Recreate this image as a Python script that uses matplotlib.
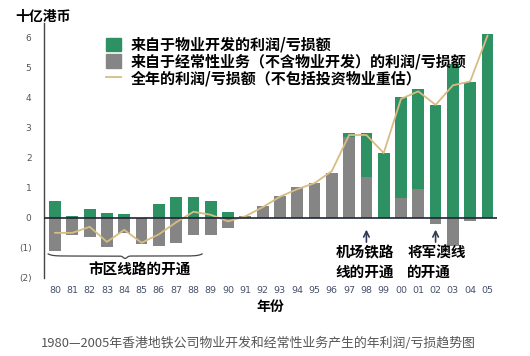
import numpy as np
import matplotlib.pyplot as plt
from matplotlib.patches import Patch
from matplotlib.lines import Line2D

plt.rcParams['font.family'] = ['Noto Sans CJK SC', 'DejaVu Sans']

# data (billion HKD)
years = list(range(1980, 2006))
year_labels = ['80', '81', '82', '83', '84', '85', '86', '87', '88', '89',
               '90', '91', '92', '93', '94', '95', '96', '97', '98', '99',
               '00', '01', '02', '03', '04', '05']
dev_profit = [0.55, 0.05, 0.30, 0.15, 0.12, 0.0, 0.47, 0.70, 0.70, 0.55,
              0.20, 0.0, 0.0, 0.0, 0.0, 0.0, 0.0, 0.10, 1.45, 2.15,
              3.35, 3.30, 3.73, 5.10, 4.50, 6.10]
rec_profit = [-1.10, -0.57, -0.63, -0.97, -0.52, -0.87, -0.95, -0.83, -0.57, -0.57,
              -0.35, 0.05, 0.40, 0.73, 1.03, 1.17, 1.50, 2.70, 1.35, 0.0,
              0.67, 0.97, -0.20, -0.95, -0.12, 0.0]
total_profit = [-0.50, -0.50, -0.30, -0.80, -0.40, -0.83, -0.55, -0.15, 0.20, 0.10,
                -0.12, 0.05, 0.35, 0.70, 0.95, 1.15, 1.55, 2.75, 2.75, 2.15,
                3.95, 4.20, 3.75, 4.40, 4.53, 6.05]

legend_labels = ['来自于物业开发的利润/亏损额',
                 '来自于经常性业务（不含物业开发）的利润/亏损额',
                 '全年的利润/亏损额（不包括投资物业重估）']

green = '#2E9163'
grey = '#858585'
gold = '#D8BC82'

x = np.array(years)
dev = np.array(dev_profit)
rec = np.array(rec_profit)
# green sits on top of grey when both are positive
dev_bottom = np.where(rec > 0, rec, 0)

fig = plt.figure(figsize=(5.3, 3.56), dpi=100)
ax = fig.add_axes([44 / 530, 78 / 356, 453 / 530, 255 / 356])

ax.bar(x, rec, width=0.68, color=grey, zorder=2)
ax.bar(x, dev, width=0.68, bottom=dev_bottom, color=green, zorder=2)
ax.plot(x, total_profit, color=gold, lw=1.3, zorder=3)
ax.axhline(0, color='#1f2633', lw=1.2, zorder=4)

ax.set_xlim(1979.36, 2005.55)
ax.set_ylim(-2, 6.47)
ax.set_yticks([6, 5, 4, 3, 2, 1, 0, -1, -2])
ax.set_yticklabels(['6', '5', '4', '3', '2', '1', '0', '(1)', '(2)'],
                   fontsize=6.5, color='#555555', family='DejaVu Sans')
ax.set_xticks(x)
ax.set_xticklabels(year_labels, fontsize=6.8, color='#44506a', family='DejaVu Sans')
ax.tick_params(axis='both', length=0)
ax.tick_params(axis='y', pad=9)
ax.tick_params(axis='x', pad=6)

for s in ['top', 'right', 'bottom']:
    ax.spines[s].set_visible(False)
ax.spines['left'].set_color('#444444')
ax.spines['left'].set_linewidth(1.0)

ax.set_xlabel('年份', fontsize=10, fontweight='bold', labelpad=3)
fig.text(15 / 530, 1 - 17 / 356, '十亿港币', fontsize=10, fontweight='bold',
         va='center', ha='left')

handles = [Patch(color=green), Patch(color=grey), Line2D([0], [0], color=gold, lw=1.3)]
ax.legend(handles, legend_labels, loc='upper left', bbox_to_anchor=(98 / 530, 1 - 29 / 356),
          bbox_transform=fig.transFigure, frameon=False,
          prop={'weight': 'bold', 'size': 10.8}, handlelength=1.0, handleheight=1.0,
          handletextpad=0.7, labelspacing=0.05, borderpad=0)

# curly brace under the 1980-88 bars
t = np.linspace(0, 1, 200)
ends = (1 - np.exp(-t * 40)) * (1 - np.exp(-(1 - t) * 40))
tip = np.exp(-((t - 0.5) * 60) ** 2)
ax.plot(1979.6 + t * (1988.5 - 1979.6), -1.2 - 0.07 * ends - 0.08 * tip,
        color='#444444', lw=0.9, zorder=3)

ax.text(1984.9, -1.72, '市区线路的开通', fontsize=10.5, fontweight='bold', ha='center', va='center')

ax.annotate('', xy=(1998, -0.3), xytext=(1998, -0.9),
            arrowprops=dict(arrowstyle='->', color='#333a55', lw=1.2))
ax.text(1997.9, -1.15, '机场铁路', fontsize=10.5, fontweight='bold', ha='center', va='center')
ax.text(1997.9, -1.78, '线的开通', fontsize=10.5, fontweight='bold', ha='center', va='center')

ax.annotate('', xy=(2002, -0.3), xytext=(2002, -0.9),
            arrowprops=dict(arrowstyle='->', color='#333a55', lw=1.2))
ax.text(2002.1, -1.15, '将军澳线', fontsize=10.5, fontweight='bold', ha='center', va='center')
ax.text(2001.6, -1.78, '的开通', fontsize=10.5, fontweight='bold', ha='center', va='center')

fig.text(258 / 530, 1 - 343 / 356,
         '1980—2005年香港地铁公司物业开发和经常性业务产生的年利润/亏损趋势图',
         fontsize=9.3, color='#555555', ha='center', va='center', fontweight='light')

fig.savefig('out.png', dpi=100)
